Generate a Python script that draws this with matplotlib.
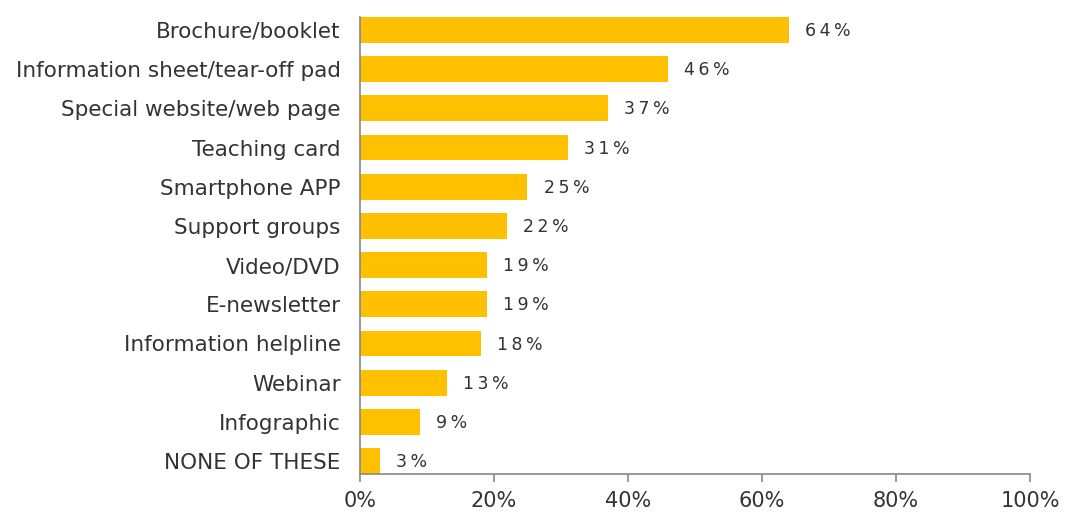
import matplotlib.pyplot as plt
from matplotlib.ticker import FuncFormatter

categorias = ['Brochure/booklet', 'Information sheet/tear-off pad', 'Special website/web page',
              'Teaching card', 'Smartphone APP', 'Support groups', 'Video/DVD', 'E-newsletter',
              'Information helpline', 'Webinar', 'Infographic', 'NONE OF THESE']
valores = [64, 46, 37, 31, 25, 22, 19, 19, 18, 13, 9, 3]
ticks_x = [0, 20, 40, 60, 80, 100]

cor_texto = '#333333'
plt.rcParams['font.family'] = ['DejaVu Sans']

fig = plt.figure(figsize=(10.66, 5.12), dpi=100)
ax = fig.add_axes([0.3377, 0.0742, 0.6285, 0.8926])

pos = list(range(len(categorias)))
ax.barh(pos, valores, height=0.66, color='#FFC000')

for y, v in zip(pos, valores):
    # espaçamento entre os caracteres do rótulo
    txt = '\u2009'.join(f'{v}%')
    ax.text(v + 2.4, y + 0.03, txt, va='center', ha='left', fontsize=12.5, color=cor_texto)

ax.set_ylim(11.33, -0.33)
ax.set_xlim(0, 100)
ax.set_yticks(pos)
ax.set_yticklabels(categorias, fontsize=15.5, color=cor_texto)
ax.set_xticks(ticks_x)
ax.xaxis.set_major_formatter(FuncFormatter(lambda x, p: f'{x:.0f}%'))
ax.tick_params(axis='x', labelsize=15, labelcolor=cor_texto, color='#888888',
               length=6, width=1.2, pad=6)
ax.tick_params(axis='y', length=0, pad=14)

for lado in ['top', 'right']:
    ax.spines[lado].set_visible(False)
for lado in ['left', 'bottom']:
    ax.spines[lado].set_color('#888888')
    ax.spines[lado].set_linewidth(1.2)

fig.savefig('out.png', dpi=100)
